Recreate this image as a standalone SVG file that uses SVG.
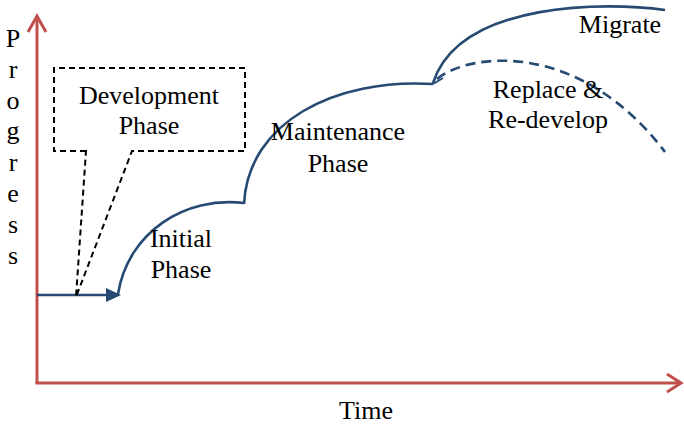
<svg xmlns="http://www.w3.org/2000/svg" width="684" height="425" viewBox="0 0 684 425">
  <style>
    .lbl { font-family: "Liberation Serif", "Times New Roman", serif; font-size: 26px; fill: #000; text-anchor: middle; }
    .axis { fill: none; stroke: #C0504D; stroke-width: 3; stroke-linecap: butt; }
    .chev { fill: none; stroke: #C0504D; stroke-width: 3; stroke-linejoin: miter; }
    .flow { fill: none; stroke: #264A72; stroke-width: 2.6; }
    .dash { stroke-dasharray: 10 6; }
    .barb { fill: none; stroke: #264A72; stroke-width: 2; }
    .call { fill: none; stroke: #000; stroke-width: 2; stroke-dasharray: 6 4; }
  </style>
  <rect width="684" height="425" fill="#fff"/>

  <!-- axes -->
  <g id="axes">
    <path class="axis" d="M37,384 L37,16"/>
    <path class="chev" d="M28,32 L37,16 L46,32"/>
    <path class="axis" d="M35.5,383 L681,383"/>
    <path class="chev" d="M667,374 L681,383 L667,392"/>
    <text class="lbl" x="366" y="419">Time</text>
    <g class="lbl">
      <text x="13" y="47">P</text>
      <text x="13" y="78">r</text>
      <text x="13" y="109">o</text>
      <text x="13" y="139">g</text>
      <text x="13" y="171">r</text>
      <text x="13" y="202">e</text>
      <text x="13" y="233">s</text>
      <text x="13" y="264">s</text>
    </g>
  </g>

  <!-- phase curves -->
  <g id="connectors">
    <path class="flow" d="M37,295 L110,295"/>
    <polygon points="106,288 121,295 106,302" fill="#264A72"/>
    <path class="flow" d="M118,294 C128,232 185,196 244,203"/>
    <path class="flow" d="M244,204 C248,122 335,78 433,84"/>
    <path class="flow" d="M665,10 C610,2 460,0 433,83"/>
    <path class="barb" d="M433,84 L443,78"/>
    <path class="flow dash" d="M437,79 C470,52 580,40 665,152"/>
  </g>

  <g id="development">
    <path class="call" d="M86,151 L54,151 L54,68 L245,68 L245,151 L132,151 L76,297 Z"/>
    <text class="lbl" x="149" y="104">Development</text>
    <text class="lbl" x="149" y="134">Phase</text>
  </g>

  <g id="initial">
    <text class="lbl" x="181" y="247">Initial</text>
    <text class="lbl" x="181" y="278">Phase</text>
  </g>

  <g id="maintenance">
    <text class="lbl" x="338" y="140">Maintenance</text>
    <text class="lbl" x="338" y="172">Phase</text>
  </g>

  <g id="migrate">
    <text class="lbl" x="620" y="33">Migrate</text>
  </g>

  <g id="replace">
    <text class="lbl" x="548" y="98">Replace &amp;</text>
    <text class="lbl" x="548" y="128">Re-develop</text>
  </g>
</svg>
